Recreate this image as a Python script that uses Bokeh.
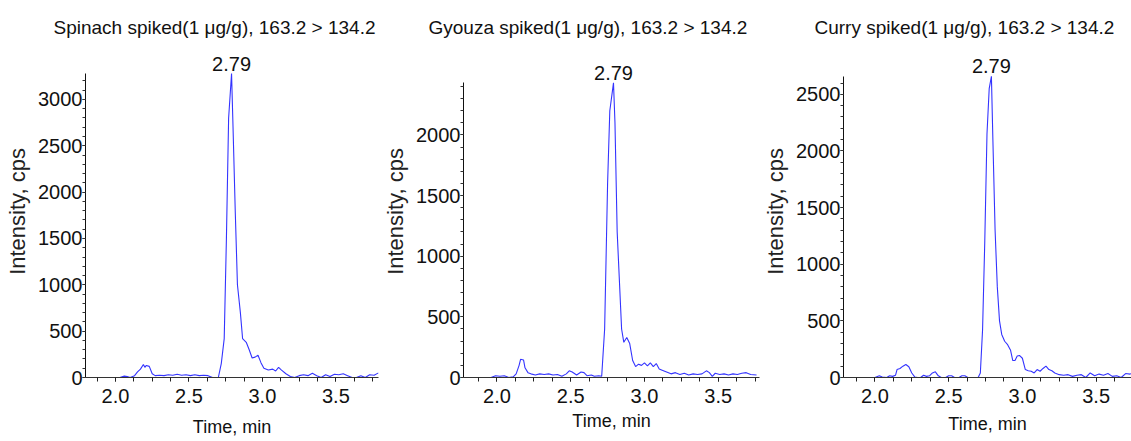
from bokeh.plotting import figure
from bokeh.layouts import row
from bokeh.models import Range1d, FixedTicker, PrintfTickFormatter, Label
from bokeh.embed import file_html
from bokeh.resources import INLINE

FONT = "Liberation Sans, Arial, sans-serif"
TRACE_COLOR = "#3434ff"
TEXT_COLOR = "#111111"

# ---- data -------------------------------------------------------------
titles = [
    "Spinach spiked(1 \u03bcg/g), 163.2 > 134.2",
    "Gyouza spiked(1 \u03bcg/g), 163.2 > 134.2",
    "Curry spiked(1 \u03bcg/g), 163.2 > 134.2",
]
peak_rt = 2.79
x_label = "Time, min"
y_label = "Intensity, cps"

spinach_time = [1.98, 2.03, 2.06, 2.08, 2.10, 2.13, 2.15, 2.17, 2.19, 2.20,
                2.21, 2.23, 2.25, 2.27, 2.30, 2.33, 2.36, 2.39, 2.42, 2.45,
                2.48, 2.51, 2.54, 2.57, 2.60, 2.63, 2.66, 2.70, 2.72, 2.74,
                2.755, 2.77, 2.79, 2.80, 2.815, 2.83, 2.85, 2.865, 2.89, 2.91,
                2.93, 2.95, 2.97, 2.99, 3.01, 3.04, 3.07, 3.09, 3.11, 3.13,
                3.16, 3.19, 3.22, 3.25, 3.28, 3.31, 3.34, 3.37, 3.40, 3.43,
                3.46, 3.49, 3.52, 3.55, 3.58, 3.61, 3.64, 3.67, 3.70, 3.73,
                3.76, 3.79]
spinach_int = [0, 0, 15, 10, 0, 20, 60, 90, 140, 110,
               130, 120, 40, 20, 25, 20, 30, 25, 35, 25,
               30, 20, 30, 20, 25, 20, 0, 0, 150, 420,
               1500, 2800, 3280, 2700, 1800, 1000, 700, 420, 380, 300,
               210, 220, 240, 160, 100, 80, 90, 70, 110, 80,
               40, 10, 0, 20, 30, 20, 45, 20, 0, 30,
               10, 35, 30, 40, 20, 0, 0, 20, 0, 30,
               25, 50]

gyouza_time = [1.92, 1.96, 1.99, 2.02, 2.05, 2.08, 2.11, 2.13, 2.15, 2.16,
               2.18, 2.19, 2.21, 2.23, 2.26, 2.29, 2.32, 2.35, 2.38, 2.41,
               2.44, 2.47, 2.49, 2.51, 2.54, 2.57, 2.59, 2.61, 2.64, 2.66,
               2.69, 2.71, 2.73, 2.75, 2.765, 2.79, 2.80, 2.815, 2.83, 2.845,
               2.86, 2.88, 2.90, 2.92, 2.94, 2.96, 2.98, 3.00, 3.02, 3.04,
               3.06, 3.08, 3.10, 3.12, 3.15, 3.18, 3.21, 3.24, 3.27, 3.30,
               3.33, 3.36, 3.39, 3.42, 3.44, 3.46, 3.48, 3.51, 3.54, 3.57,
               3.60, 3.63, 3.66, 3.69, 3.72, 3.76]
gyouza_int = [0, 0, 15, 10, 15, 0, 5, 30, 100, 150,
              145, 80, 40, 30, 20, 30, 25, 30, 20, 25,
              10, 30, 55, 45, 20, 45, 40, 15, 20, 10,
              15, 10, 400, 1600, 2200, 2430, 2100, 1200, 800, 400,
              290, 330, 280, 140, 90, 110, 100, 120, 95, 120,
              90, 115, 70, 60, 45, 30, 40, 25, 35, 20,
              30, 25, 30, 55, 40, 10, 35, 25, 30, 20,
              30, 25, 35, 40, 25, 20]

curry_time = [1.97, 2.00, 2.03, 2.05, 2.08, 2.10, 2.12, 2.14, 2.15, 2.17,
              2.19, 2.21, 2.23, 2.25, 2.27, 2.29, 2.31, 2.33, 2.35, 2.37,
              2.39, 2.41, 2.43, 2.45, 2.48, 2.50, 2.52, 2.54, 2.57, 2.59,
              2.61, 2.63, 2.67, 2.70, 2.715, 2.73, 2.745, 2.76, 2.775, 2.79,
              2.80, 2.815, 2.83, 2.845, 2.86, 2.88, 2.90, 2.92, 2.935, 2.95,
              2.965, 2.98, 3.00, 3.02, 3.04, 3.06, 3.08, 3.10, 3.12, 3.14,
              3.16, 3.18, 3.20, 3.22, 3.25, 3.28, 3.31, 3.34, 3.37, 3.40,
              3.43, 3.46, 3.49, 3.52, 3.55, 3.58, 3.61, 3.64, 3.67, 3.70,
              3.73, 3.75]
curry_int = [0, 0, 15, 5, 0, 15, 10, 20, 70, 80,
             100, 115, 95, 40, 5, 0, 0, 20, 10, 15,
             40, 50, 15, 0, 0, 15, 15, 0, 0, 15,
             15, 0, 0, 0, 40, 420, 1200, 2150, 2550, 2660,
             2100, 1300, 800, 500, 380, 320, 290, 240, 150, 150,
             190, 195, 170, 70, 60, 55, 40, 70, 55, 80,
             100, 70, 60, 40, 25, 20, 25, 10, 20, 25,
             0, 40, 15, 30, 20, 35, 10, 15, 0, 35,
             30, 40]

x_ticks = [2.0, 2.5, 3.0, 3.5]
x_minor_ticks = [1.875, 2.0, 2.125, 2.25, 2.375, 2.5, 2.625, 2.75, 2.875,
                 3.0, 3.125, 3.25, 3.375, 3.5, 3.625, 3.75]

# ---- per-panel layout (pixels) ----------------------------------------
# FRAME_TOP: top of plotting area (leaves room for the peak label)
# base_px / peak_px: where the zero line and the peak top should sit
FRAME_TOP = 45
panels = [
    dict(title=titles[0], t=spinach_time, y=spinach_int,
         x_range=(1.796, 3.79), y_ticks=[0, 500, 1000, 1500, 2000, 2500, 3000],
         width=380, left=85, right=2, base_px=377, peak_px=73,
         title_offset=-32, xlab_standoff=11),
    dict(title=titles[1], t=gyouza_time, y=gyouza_int,
         x_range=(1.773, 3.78), y_ticks=[0, 500, 1000, 1500, 2000],
         width=380, left=78, right=1, base_px=383, peak_px=83,
         title_offset=-35, xlab_standoff=5),
    dict(title=titles[2], t=curry_time, y=curry_int,
         x_range=(1.787, 3.74), y_ticks=[0, 500, 1000, 1500, 2000, 2500],
         width=371, left=78, right=0, base_px=380, peak_px=76,
         title_offset=-29, xlab_standoff=8),
]


def make_panel(cfg):
    peak = max(cfg["y"])
    headroom = (cfg["base_px"] - FRAME_TOP) / (cfg["base_px"] - cfg["peak_px"])
    p = figure(width=cfg["width"], height=441, output_backend="svg",
               toolbar_location=None, tools="",
               x_range=Range1d(*cfg["x_range"]),
               y_range=Range1d(0, peak * headroom),
               min_border_left=cfg["left"], min_border_right=cfg["right"],
               min_border_top=FRAME_TOP, min_border_bottom=441 - cfg["base_px"],
               background_fill_color="white", border_fill_color="white",
               outline_line_color=None)

    p.title.text = cfg["title"]
    p.title.align = "left"
    p.title.offset = cfg["title_offset"]
    p.title.standoff = 15
    p.title.text_font = FONT
    p.title.text_font_size = "19px"
    p.title.text_font_style = "normal"
    p.title.text_color = TEXT_COLOR

    p.xgrid.visible = False
    p.ygrid.visible = False

    xa = p.xaxis[0]
    xa.ticker = FixedTicker(ticks=x_ticks, minor_ticks=x_minor_ticks)
    xa.formatter = PrintfTickFormatter(format="%.1f")
    xa.axis_line_color = "#333333"
    xa.major_tick_in = 0
    xa.major_tick_out = 4
    xa.minor_tick_in = 0
    xa.minor_tick_out = 4
    xa.major_tick_line_color = "#222222"
    xa.minor_tick_line_color = "#222222"
    xa.major_label_text_font = FONT
    xa.major_label_text_font_size = "20px"
    xa.major_label_text_color = TEXT_COLOR
    xa.major_label_standoff = 7
    xa.axis_label = x_label
    xa.axis_label_text_font = FONT
    xa.axis_label_text_font_size = "18px"
    xa.axis_label_text_font_style = "normal"
    xa.axis_label_text_color = TEXT_COLOR
    xa.axis_label_standoff = cfg["xlab_standoff"]

    ya = p.yaxis[0]
    y_minor = list(range(0, int(peak) + 1, 100))
    ya.ticker = FixedTicker(ticks=cfg["y_ticks"], minor_ticks=y_minor)
    ya.bounds = (0, peak)
    ya.axis_line_color = "#111111"
    ya.major_tick_in = 0
    ya.major_tick_out = 3
    ya.minor_tick_in = 0
    ya.minor_tick_out = 3
    ya.major_tick_line_color = "#333333"
    ya.minor_tick_line_color = "#333333"
    ya.major_label_text_font = FONT
    ya.major_label_text_font_size = "20px"
    ya.major_label_text_color = TEXT_COLOR
    ya.major_label_standoff = 0
    ya.axis_label = y_label
    ya.axis_label_text_font = FONT
    ya.axis_label_text_font_size = "22px"
    ya.axis_label_text_font_style = "normal"
    ya.axis_label_text_color = "#222222"
    ya.axis_label_standoff = 5

    p.line(cfg["t"], cfg["y"], line_color=TRACE_COLOR, line_width=1.1)

    # retention-time label above the apex
    p.add_layout(Label(x=peak_rt, y=peak, text=f"{peak_rt:.2f}",
                       text_align="center", text_baseline="bottom", y_offset=3,
                       text_font=FONT, text_font_size="20px",
                       text_color=TEXT_COLOR))
    return p


layout = row(*[make_panel(c) for c in panels])
open("out.html", "w").write(file_html(layout, INLINE))
